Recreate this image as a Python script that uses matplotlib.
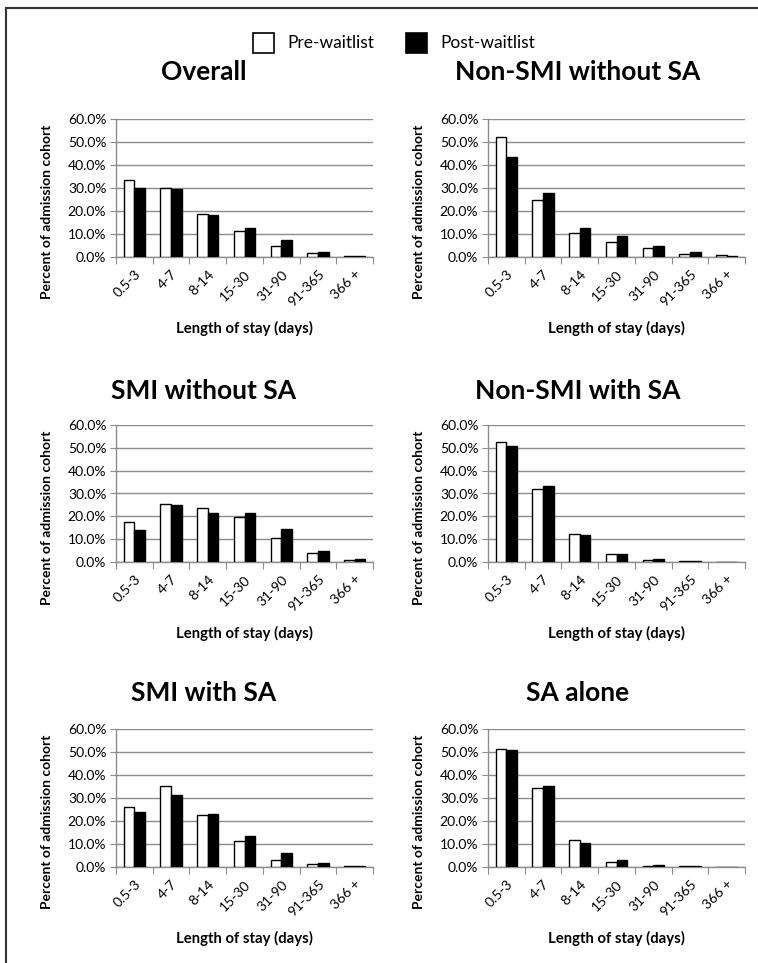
import matplotlib
matplotlib.use("Agg")
import matplotlib.pyplot as plt
import numpy as np
from matplotlib.patches import Rectangle
from matplotlib.lines import Line2D

plt.rcParams['font.family'] = ['Lato', 'DejaVu Sans']

categories = ["0.5-3", "4-7", "8-14", "15-30", "31-90", "91-365", "366 +"]
titles = ["Overall", "Non-SMI without SA", "SMI without SA",
          "Non-SMI with SA", "SMI with SA", "SA alone"]
series_names = ["Pre-waitlist", "Post-waitlist"]

overall_pre = [33.5, 29.8, 18.5, 11.4, 4.9, 1.7, 0.5]
overall_post = [29.8, 29.7, 18.2, 12.8, 7.3, 2.3, 0.6]
nonsmi_nosa_pre = [52.0, 24.7, 10.6, 6.5, 4.1, 1.5, 0.7]
nonsmi_nosa_post = [43.4, 28.0, 12.8, 9.2, 4.8, 2.3, 0.3]
smi_nosa_pre = [17.5, 25.6, 23.7, 19.9, 10.3, 3.8, 0.7]
smi_nosa_post = [13.8, 25.0, 21.3, 21.3, 14.6, 4.8, 1.2]
nonsmi_sa_pre = [52.4, 32.0, 12.2, 3.6, 0.7, 0.3, 0.2]
nonsmi_sa_post = [50.9, 33.2, 11.8, 3.5, 1.5, 0.4, 0.2]
smi_sa_pre = [26.3, 35.1, 22.4, 11.5, 3.0, 1.3, 0.4]
smi_sa_post = [23.8, 31.5, 22.9, 13.4, 6.3, 1.9, 0.5]
sa_alone_pre = [51.4, 34.5, 11.8, 2.0, 0.4, 0.3, 0.0]
sa_alone_post = [50.9, 35.2, 10.5, 2.9, 0.7, 0.3, 0.0]

pre_series = [overall_pre, nonsmi_nosa_pre, smi_nosa_pre, nonsmi_sa_pre, smi_sa_pre, sa_alone_pre]
post_series = [overall_post, nonsmi_nosa_post, smi_nosa_post, nonsmi_sa_post, smi_sa_post, sa_alone_post]
yticks = [0, 10, 20, 30, 40, 50, 60]

W, H = 758, 963
fig = plt.figure(figsize=(W / 100, H / 100), dpi=100)

def fx(px):
    return px / W

def fy(py):
    return 1 - py / H

# panel geometry in pixels
cols = [(116, 373), (488, 745)]
rows = [(119, 257), (425, 562), (729, 867)]
title_y = [72, 391, 693]
title_x = [204, 578]
xlabel_off = 71
ylabel_x = [47, 419]

grid_col = "#8c8c8c"
x = np.arange(len(categories))
w = 0.29

for i in range(6):
    r, c = divmod(i, 2)
    l, rt = cols[c]
    t, b = rows[r]
    ax = fig.add_axes([fx(l), fy(b), fx(rt) - fx(l), fy(t) - fy(b)])
    ax.bar(x - w / 2, pre_series[i], w, facecolor="white", edgecolor="black", linewidth=1, zorder=3)
    ax.bar(x + w / 2, post_series[i], w, facecolor="black", edgecolor="black", linewidth=1, zorder=3)
    ax.set_xlim(-0.5, len(categories) - 0.5)
    ax.set_ylim(0, 60)
    ax.set_yticks(yticks)
    ax.set_yticklabels([f"{v:.1f}%" for v in yticks], fontsize=10)
    ax.yaxis.grid(True, color=grid_col, linewidth=1, zorder=0)
    ax.set_axisbelow(True)
    for s in ["top", "right"]:
        ax.spines[s].set_visible(False)
    for s in ["left", "bottom"]:
        ax.spines[s].set_color(grid_col)
        ax.spines[s].set_linewidth(1)
    ax.tick_params(axis="y", direction="out", length=4, color=grid_col, pad=3)
    ax.set_xticks(np.arange(-0.5, len(categories), 1.0))
    ax.set_xticklabels([])
    ax.tick_params(axis="x", which="major", direction="out", length=5, color=grid_col)
    ax.set_xticks(x, minor=True)
    ax.set_xticklabels(categories, minor=True, rotation=45, ha="right",
                       rotation_mode="anchor", fontsize=10)
    ax.tick_params(axis="x", which="minor", length=0, pad=8)
    cx = (fx(l) + fx(rt)) / 2
    fig.text(fx(title_x[c]), fy(title_y[r]), titles[i], ha="center", va="center",
             fontsize=19, fontweight="bold")
    fig.text(cx, fy(b + xlabel_off), "Length of stay (days)", ha="center", va="center",
             fontsize=10.7, fontweight="bold")
    fig.text(fx(ylabel_x[c]), fy(t + 93), "Percent of admission cohort",
             ha="center", va="center", rotation=90, fontsize=10, fontweight="bold")

# legend drawn manually
legend_boxes = [(253, "white"), (406, "black")]
for (bx, fc), name in zip(legend_boxes, series_names):
    fig.add_artist(Rectangle((fx(bx), fy(53)), fx(21), 20 / H, facecolor=fc,
                             edgecolor="black", linewidth=1.2, transform=fig.transFigure))
    fig.text(fx(bx + 34), fy(43), name, ha="left", va="center", fontsize=12.5)

# frame lines (top and left)
fig.add_artist(Line2D([fx(6), 1.0], [fy(8), fy(8)], color="#333333", linewidth=1.5))
fig.add_artist(Line2D([fx(6), fx(6)], [fy(8), 0.0], color="#333333", linewidth=1.5))

fig.savefig("out.png", dpi=100)
